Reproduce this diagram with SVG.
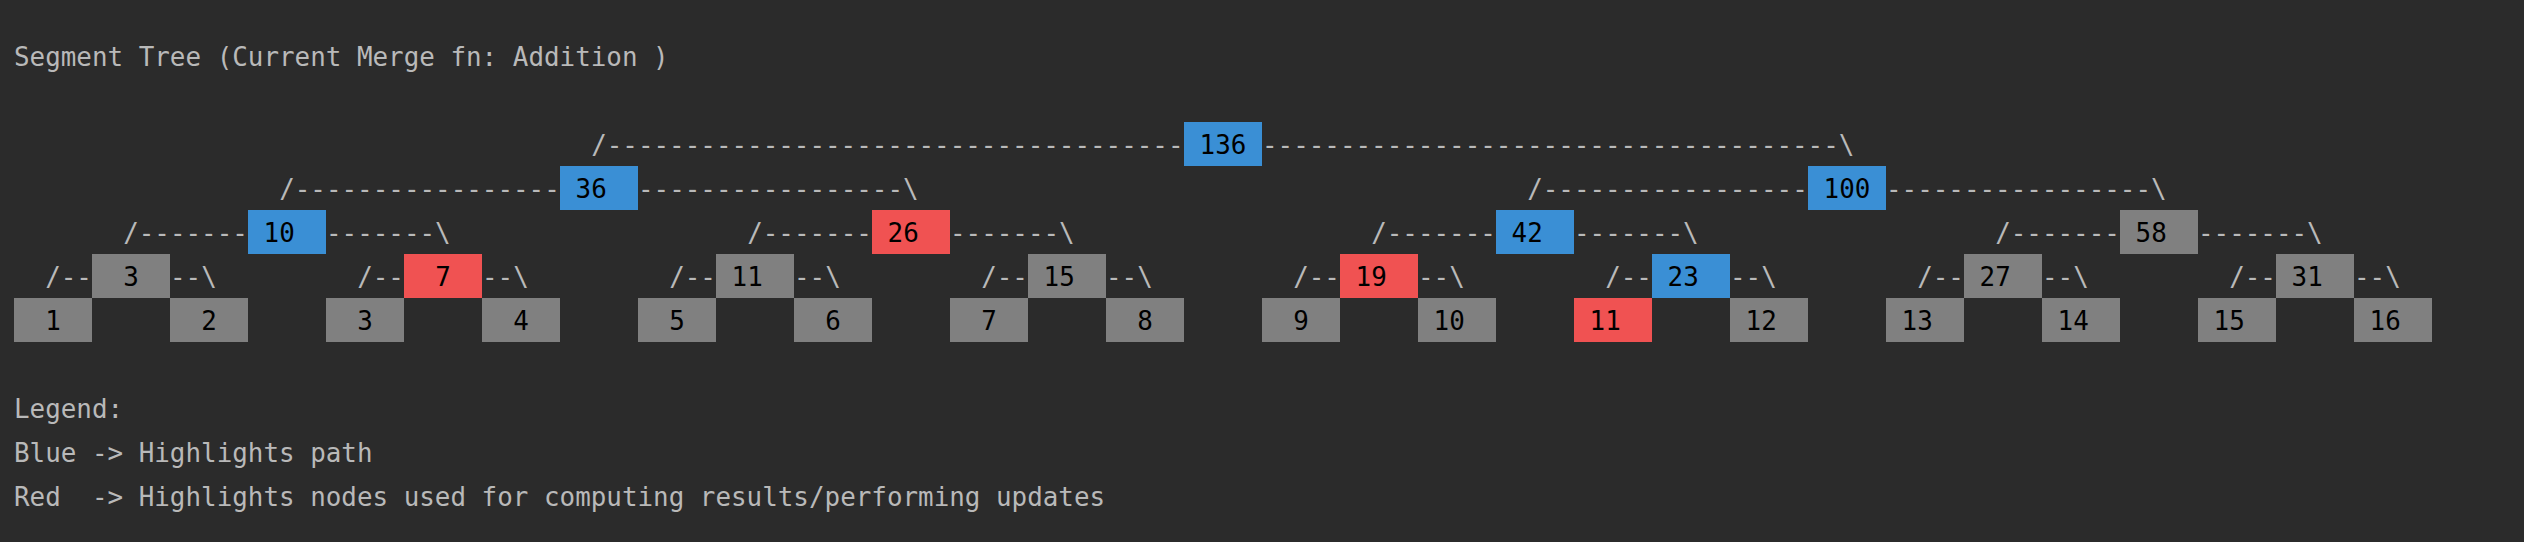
<svg xmlns="http://www.w3.org/2000/svg" width="2524" height="542" viewBox="0 0 2524 542">
<style>
text{font-family:"DejaVu Sans Mono","Liberation Mono",monospace;font-size:25.9px;white-space:pre}
.t{fill:#b9b9b9}
.n{fill:#000000}
.g{fill:#808080}
.b{fill:#3a8fd5}
.r{fill:#f05252}
</style>
<rect x="0" y="0" width="2524" height="542" fill="#2b2b2b"/>
<text class="t" x="14" y="66">Segment Tree (Current Merge fn: Addition )</text>
<g id="connectors" class="t">
<text class="t" x="591.2" y="154">/-------------------------------------</text>
<text class="t" x="1262" y="154">-------------------------------------\</text>
<text class="t" x="279.2" y="198">/-----------------</text>
<text class="t" x="638" y="198">-----------------\</text>
<text class="t" x="1527.2" y="198">/-----------------</text>
<text class="t" x="1886" y="198">-----------------\</text>
<text class="t" x="123.2" y="242">/-------</text>
<text class="t" x="326" y="242">-------\</text>
<text class="t" x="747.2" y="242">/-------</text>
<text class="t" x="950" y="242">-------\</text>
<text class="t" x="1371.2" y="242">/-------</text>
<text class="t" x="1574" y="242">-------\</text>
<text class="t" x="1995.2" y="242">/-------</text>
<text class="t" x="2198" y="242">-------\</text>
<text class="t" x="45.2" y="286">/--</text>
<text class="t" x="170" y="286">--\</text>
<text class="t" x="357.2" y="286">/--</text>
<text class="t" x="482" y="286">--\</text>
<text class="t" x="669.2" y="286">/--</text>
<text class="t" x="794" y="286">--\</text>
<text class="t" x="981.2" y="286">/--</text>
<text class="t" x="1106" y="286">--\</text>
<text class="t" x="1293.2" y="286">/--</text>
<text class="t" x="1418" y="286">--\</text>
<text class="t" x="1605.2" y="286">/--</text>
<text class="t" x="1730" y="286">--\</text>
<text class="t" x="1917.2" y="286">/--</text>
<text class="t" x="2042" y="286">--\</text>
<text class="t" x="2229.2" y="286">/--</text>
<text class="t" x="2354" y="286">--\</text>
</g>
<g id="n136"><rect class="b" x="1184" y="122" width="78" height="44"/><text class="n" x="1199.6" y="154">136</text></g>
<g id="n36"><rect class="b" x="560" y="166" width="78" height="44"/><text class="n" x="575.6" y="198">36</text></g>
<g id="n100"><rect class="b" x="1808" y="166" width="78" height="44"/><text class="n" x="1823.6" y="198">100</text></g>
<g id="n10"><rect class="b" x="248" y="210" width="78" height="44"/><text class="n" x="263.6" y="242">10</text></g>
<g id="n26"><rect class="r" x="872" y="210" width="78" height="44"/><text class="n" x="887.6" y="242">26</text></g>
<g id="n42"><rect class="b" x="1496" y="210" width="78" height="44"/><text class="n" x="1511.6" y="242">42</text></g>
<g id="n58"><rect class="g" x="2120" y="210" width="78" height="44"/><text class="n" x="2135.6" y="242">58</text></g>
<g id="n3"><rect class="g" x="92" y="254" width="78" height="44"/><text class="n" x="123.2" y="286">3</text></g>
<g id="n7"><rect class="r" x="404" y="254" width="78" height="44"/><text class="n" x="435.2" y="286">7</text></g>
<g id="n11"><rect class="g" x="716" y="254" width="78" height="44"/><text class="n" x="731.6" y="286">11</text></g>
<g id="n15"><rect class="g" x="1028" y="254" width="78" height="44"/><text class="n" x="1043.6" y="286">15</text></g>
<g id="n19"><rect class="r" x="1340" y="254" width="78" height="44"/><text class="n" x="1355.6" y="286">19</text></g>
<g id="n23"><rect class="b" x="1652" y="254" width="78" height="44"/><text class="n" x="1667.6" y="286">23</text></g>
<g id="n27"><rect class="g" x="1964" y="254" width="78" height="44"/><text class="n" x="1979.6" y="286">27</text></g>
<g id="n31"><rect class="g" x="2276" y="254" width="78" height="44"/><text class="n" x="2291.6" y="286">31</text></g>
<g id="leaf1"><rect class="g" x="14" y="298" width="78" height="44"/><text class="n" x="45.2" y="330">1</text></g>
<g id="leaf2"><rect class="g" x="170" y="298" width="78" height="44"/><text class="n" x="201.2" y="330">2</text></g>
<g id="leaf3"><rect class="g" x="326" y="298" width="78" height="44"/><text class="n" x="357.2" y="330">3</text></g>
<g id="leaf4"><rect class="g" x="482" y="298" width="78" height="44"/><text class="n" x="513.2" y="330">4</text></g>
<g id="leaf5"><rect class="g" x="638" y="298" width="78" height="44"/><text class="n" x="669.2" y="330">5</text></g>
<g id="leaf6"><rect class="g" x="794" y="298" width="78" height="44"/><text class="n" x="825.2" y="330">6</text></g>
<g id="leaf7"><rect class="g" x="950" y="298" width="78" height="44"/><text class="n" x="981.2" y="330">7</text></g>
<g id="leaf8"><rect class="g" x="1106" y="298" width="78" height="44"/><text class="n" x="1137.2" y="330">8</text></g>
<g id="leaf9"><rect class="g" x="1262" y="298" width="78" height="44"/><text class="n" x="1293.2" y="330">9</text></g>
<g id="leaf10"><rect class="g" x="1418" y="298" width="78" height="44"/><text class="n" x="1433.6" y="330">10</text></g>
<g id="leaf11"><rect class="r" x="1574" y="298" width="78" height="44"/><text class="n" x="1589.6" y="330">11</text></g>
<g id="leaf12"><rect class="g" x="1730" y="298" width="78" height="44"/><text class="n" x="1745.6" y="330">12</text></g>
<g id="leaf13"><rect class="g" x="1886" y="298" width="78" height="44"/><text class="n" x="1901.6" y="330">13</text></g>
<g id="leaf14"><rect class="g" x="2042" y="298" width="78" height="44"/><text class="n" x="2057.6" y="330">14</text></g>
<g id="leaf15"><rect class="g" x="2198" y="298" width="78" height="44"/><text class="n" x="2213.6" y="330">15</text></g>
<g id="leaf16"><rect class="g" x="2354" y="298" width="78" height="44"/><text class="n" x="2369.6" y="330">16</text></g>
<g id="legend">
<text class="t" x="14" y="418">Legend:</text>
<text class="t" x="14" y="462">Blue -&gt; Highlights path</text>
<text class="t" x="14" y="506" xml:space="preserve">Red  -&gt; Highlights nodes used for computing results/performing updates</text>
</g>
</svg>
